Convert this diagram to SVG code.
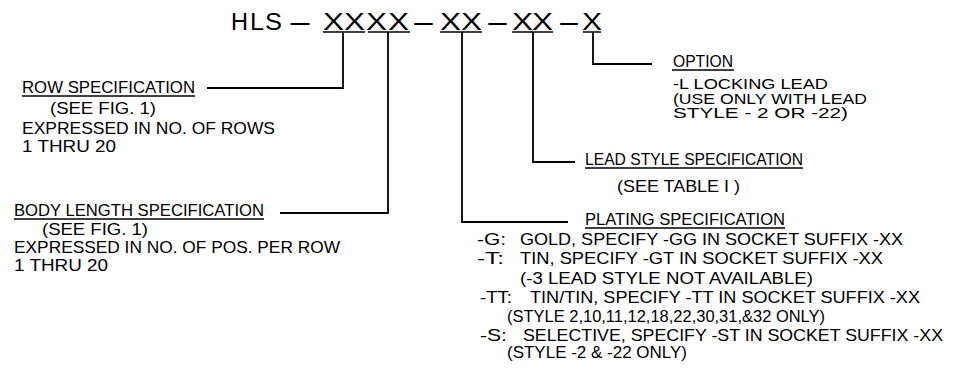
<svg xmlns="http://www.w3.org/2000/svg" width="973" height="376" viewBox="0 0 973 376">
<style>
.t{font-family:"Liberation Sans",Arial,sans-serif;font-size:16.5px;fill:#000}
.s{font-family:"Liberation Sans",Arial,sans-serif;font-size:14.5px;fill:#000}
.title{font-family:"Liberation Sans",Arial,sans-serif;font-size:23px;fill:#000}
.ln{stroke:#000;stroke-width:1.8;fill:none}
.ul{stroke:#000;stroke-width:1.5;fill:none}
</style>
<rect width="973" height="376" fill="#fff"/>
<g id="title">
<text class="title" y="30"><tspan x="231" textLength="17" lengthAdjust="spacingAndGlyphs">H</tspan><tspan x="250" textLength="14" lengthAdjust="spacingAndGlyphs">L</tspan><tspan x="265" textLength="17" lengthAdjust="spacingAndGlyphs">S</tspan><tspan x="287" textLength="26" lengthAdjust="spacingAndGlyphs">-</tspan><tspan x="323" textLength="21" lengthAdjust="spacingAndGlyphs">X</tspan><tspan x="344" textLength="21" lengthAdjust="spacingAndGlyphs">X</tspan><tspan x="366" textLength="21" lengthAdjust="spacingAndGlyphs">X</tspan><tspan x="388" textLength="21" lengthAdjust="spacingAndGlyphs">X</tspan><tspan x="411" textLength="25" lengthAdjust="spacingAndGlyphs">-</tspan><tspan x="440" textLength="21" lengthAdjust="spacingAndGlyphs">X</tspan><tspan x="461" textLength="21" lengthAdjust="spacingAndGlyphs">X</tspan><tspan x="485" textLength="25" lengthAdjust="spacingAndGlyphs">-</tspan><tspan x="512" textLength="21" lengthAdjust="spacingAndGlyphs">X</tspan><tspan x="532" textLength="21" lengthAdjust="spacingAndGlyphs">X</tspan><tspan x="557" textLength="24" lengthAdjust="spacingAndGlyphs">-</tspan><tspan x="582" textLength="20" lengthAdjust="spacingAndGlyphs">X</tspan></text>
<path class="ul" d="M323,32H365M368,32H410M440,32H482M512,32H553M583,32H601"/>
</g>
<g id="connectors">
<path class="ln" d="M343,32V88H207"/>
<path class="ln" d="M388,32V213H280"/>
<path class="ln" d="M462,32V222H568"/>
<path class="ln" d="M533,32V162H575"/>
<path class="ln" d="M593,32V64H652"/>
</g>
<g id="row">
<text class="t" x="22" y="93" textLength="173" lengthAdjust="spacingAndGlyphs">ROW SPECIFICATION</text>
<path class="ul" d="M22,96H195"/>
<text class="t" x="50" y="114" textLength="106" lengthAdjust="spacingAndGlyphs">(SEE FIG. 1)</text>
<text class="t" x="22" y="134" textLength="253" lengthAdjust="spacingAndGlyphs">EXPRESSED IN NO. OF ROWS</text>
<text class="t" x="22" y="152" textLength="94" lengthAdjust="spacingAndGlyphs">1 THRU 20</text>
</g>
<g id="body">
<text class="t" x="14" y="216" textLength="250" lengthAdjust="spacingAndGlyphs">BODY LENGTH SPECIFICATION</text>
<path class="ul" d="M14,219H264"/>
<text class="t" x="42" y="235" textLength="106" lengthAdjust="spacingAndGlyphs">(SEE FIG. 1)</text>
<text class="t" x="14" y="253" textLength="326" lengthAdjust="spacingAndGlyphs">EXPRESSED IN NO. OF POS. PER ROW</text>
<text class="t" x="14" y="271" textLength="94" lengthAdjust="spacingAndGlyphs">1 THRU 20</text>
</g>
<g id="option">
<text class="t" x="673" y="67" textLength="60" lengthAdjust="spacingAndGlyphs">OPTION</text>
<path class="ul" d="M672,70H734"/>
<text class="s" x="673" y="89" textLength="155" lengthAdjust="spacingAndGlyphs">-L LOCKING LEAD</text>
<text class="s" x="673" y="103.5" textLength="194" lengthAdjust="spacingAndGlyphs">(USE ONLY WITH LEAD</text>
<text class="s" x="673" y="118" textLength="175" lengthAdjust="spacingAndGlyphs">STYLE - 2 OR -22)</text>
</g>
<g id="lead">
<text class="t" x="585" y="165" textLength="218" lengthAdjust="spacingAndGlyphs">LEAD STYLE SPECIFICATION</text>
<path class="ul" d="M585,168H803"/>
<text class="t" x="617" y="192" textLength="123" lengthAdjust="spacingAndGlyphs">(SEE TABLE I )</text>
</g>
<g id="plating">
<text class="t" x="585" y="225" textLength="200" lengthAdjust="spacingAndGlyphs">PLATING SPECIFICATION</text>
<path class="ul" d="M585,228H785"/>
<text class="t" y="245"><tspan x="477" textLength="29" lengthAdjust="spacingAndGlyphs">-G:</tspan><tspan x="520" textLength="383" lengthAdjust="spacingAndGlyphs">GOLD, SPECIFY -GG IN SOCKET SUFFIX -XX</tspan></text>
<text class="t" y="264"><tspan x="477" textLength="27" lengthAdjust="spacingAndGlyphs">-T:</tspan><tspan x="520" textLength="363" lengthAdjust="spacingAndGlyphs">TIN, SPECIFY -GT IN SOCKET SUFFIX -XX</tspan></text>
<text class="t" x="520" y="284" textLength="293" lengthAdjust="spacingAndGlyphs">(-3 LEAD STYLE NOT AVAILABLE)</text>
<text class="t" y="303"><tspan x="480" textLength="32" lengthAdjust="spacingAndGlyphs">-TT:</tspan><tspan x="530" textLength="390" lengthAdjust="spacingAndGlyphs">TIN/TIN, SPECIFY -TT IN SOCKET SUFFIX -XX</tspan></text>
<text class="t" x="507" y="322" textLength="318" lengthAdjust="spacingAndGlyphs">(STYLE 2,10,11,12,18,22,30,31,&amp;32 ONLY)</text>
<text class="t" y="341"><tspan x="480" textLength="27" lengthAdjust="spacingAndGlyphs">-S:</tspan><tspan x="523" textLength="420" lengthAdjust="spacingAndGlyphs">SELECTIVE, SPECIFY -ST IN SOCKET SUFFIX -XX</tspan></text>
<text class="t" x="507" y="358" textLength="180" lengthAdjust="spacingAndGlyphs">(STYLE -2 &amp; -22 ONLY)</text>
</g>
</svg>
